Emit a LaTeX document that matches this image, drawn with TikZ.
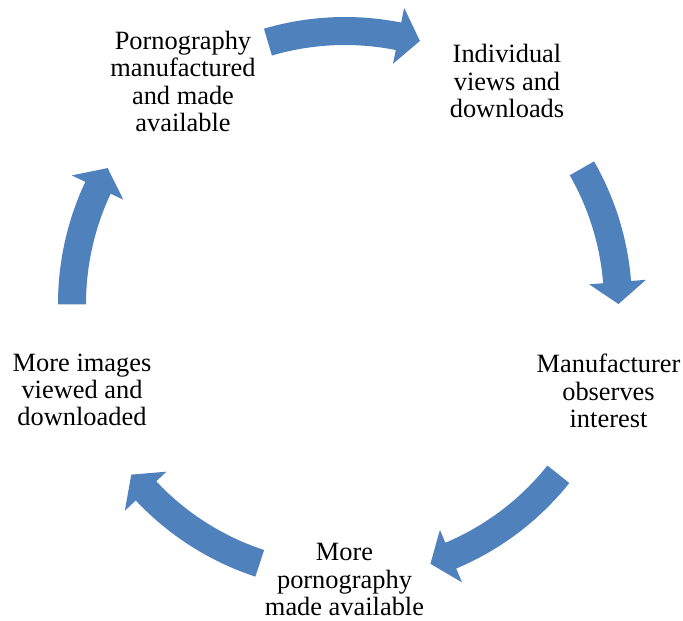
\documentclass[tikz,border=0pt]{standalone}
\usepackage{fontspec}
\setmainfont{Liberation Serif}
\definecolor{arrowblue}{RGB}{79,129,189}
\tikzset{
  lbl/.style={align=center, inner sep=0pt, font=\fontsize{26.4}{27.3}\selectfont},
  arrowfill/.style={fill=arrowblue}
}
% #1 tail angle, #2 tip angle (clockwise)
\newcommand\cyclearrow[2]{%
  \fill[arrowfill, shift={(C)}]
    (#1:259) arc[start angle=#1, end angle=#2+4.6, radius=259]
    -- (#2+4.6:245) -- (#2:273.5) -- (#2+4.6:302) -- (#2+4.6:287)
    arc[start angle=#2+4.6, end angle=#1, radius=287] -- cycle;}
\begin{document}
\begin{tikzpicture}[x=1pt,y=1pt]
\useasboundingbox (0,0) rectangle (683,621);
\coordinate (C) at (345,317);
\node[lbl] (n1) at (183,539.5) {Pornography\\manufactured\\and made\\available};
\node[lbl] (n2) at (507,540) {Individual\\views and\\downloads};
\node[lbl] (n3) at (608.5,230) {Manufacturer\\observes\\interest};
\node[lbl] (n4) at (344.5,41.5) {More\\pornography\\made available};
\node[lbl] (n5) at (82,231) {More images\\viewed and\\downloaded};
\cyclearrow{106.4}{74.1}
\cyclearrow{29.8}{0}
\cyclearrow{-38.6}{-71.8}
\cyclearrow{-108.2}{-141.4}
\cyclearrow{180.1}{150.2}
\end{tikzpicture}
\end{document}
